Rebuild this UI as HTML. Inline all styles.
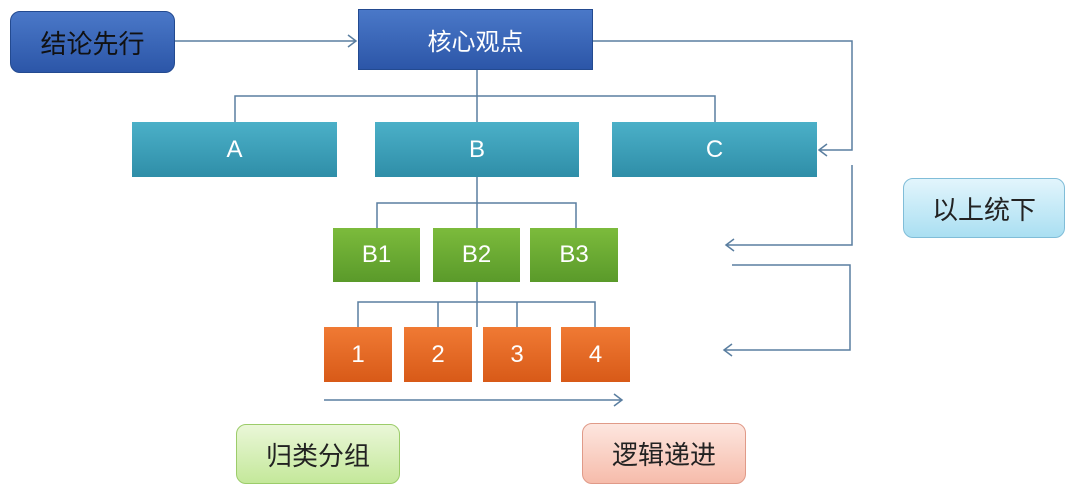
<!DOCTYPE html>
<html><head><meta charset="utf-8"><style>
body{margin:0;width:1080px;height:501px;background:#fff;position:relative;overflow:hidden;font-family:"Liberation Sans","Noto Sans CJK SC",sans-serif}
.b{position:absolute;display:flex;align-items:center;justify-content:center;color:#fff;font-size:24px;box-sizing:border-box}
.blue{background:linear-gradient(#4a78c8,#2c56a8);border:1px solid #234a90}
.teal{background:linear-gradient(#4bb0c8,#2f8ea8)}
.green{background:linear-gradient(#7cbb3c,#5a9a2a)}
.orange{background:linear-gradient(#f07a34,#d85a18)}
.lab{position:absolute;display:flex;align-items:center;justify-content:center;font-size:26px;color:#222;border-radius:10px;box-sizing:border-box}
</style></head><body>
<svg width="1080" height="501" style="position:absolute;left:0;top:0" fill="none" stroke="#5a7ea0" stroke-width="1.5">
<path d="M175 41H356M348 35l8 6-8 6"/>
<path d="M593 41H852V150H819M827 144l-8 6 8 6"/>
<path d="M477 70V122M235 122V96H715V122"/>
<path d="M477 177V228M377 228V203H576V228"/>
<path d="M477 282V327M358 327V302H595V327M438 302V327M517 302V327"/>
<path d="M852 165V245H726M734 239l-8 6 8 6"/>
<path d="M732 265H850V350H724M732 344l-8 6 8 6"/>
<path d="M324 400H622M614 394l8 6-8 6"/>
</svg>
<div class="lab" style="left:10px;top:11px;width:165px;height:62px;background:linear-gradient(#4a78c8,#2c56a8);border:1px solid #234a90;color:#111">结论先行</div>
<div class="b blue" style="left:358px;top:9px;width:235px;height:61px">核心观点</div>
<div class="b teal" style="left:132px;top:122px;width:205px;height:55px">A</div>
<div class="b teal" style="left:375px;top:122px;width:204px;height:55px">B</div>
<div class="b teal" style="left:612px;top:122px;width:205px;height:55px">C</div>
<div class="b green" style="left:333px;top:228px;width:87px;height:54px">B1</div>
<div class="b green" style="left:433px;top:228px;width:87px;height:54px">B2</div>
<div class="b green" style="left:530px;top:228px;width:88px;height:54px">B3</div>
<div class="b orange" style="left:324px;top:327px;width:68px;height:55px">1</div>
<div class="b orange" style="left:404px;top:327px;width:68px;height:55px">2</div>
<div class="b orange" style="left:483px;top:327px;width:68px;height:55px">3</div>
<div class="b orange" style="left:561px;top:327px;width:69px;height:55px">4</div>
<div class="lab" style="left:236px;top:424px;width:164px;height:60px;background:linear-gradient(#eaf7d8,#c4e89a);border:1px solid #9ccc6a">归类分组</div>
<div class="lab" style="left:582px;top:423px;width:164px;height:61px;background:linear-gradient(#fde6df,#f6bcab);border:1px solid #e09a88">逻辑递进</div>
<div class="lab" style="left:903px;top:178px;width:162px;height:60px;background:linear-gradient(#e2f5fc,#aadff2);border:1px solid #80bdd8">以上统下</div>
</body></html>
